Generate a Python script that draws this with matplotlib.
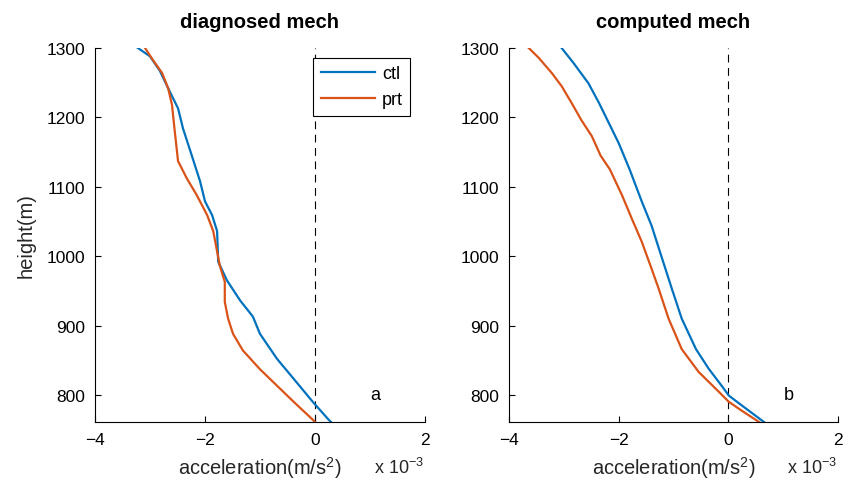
import matplotlib
matplotlib.use("Agg")
import matplotlib.pyplot as plt
import numpy as np

plt.rcParams['font.family'] = ['Liberation Sans', 'DejaVu Sans']
plt.rcParams['mathtext.fontset'] = 'custom'
plt.rcParams['mathtext.rm'] = 'Liberation Sans'
plt.rcParams['mathtext.it'] = 'Liberation Sans:italic'

# ---- data (acceleration in units of 1e-3 m/s^2, height in m) ----
diag_ctl_x = [-3.22, -3.0, -2.82, -2.67, -2.49, -2.40, -2.24, -2.09, -2.0, -1.87, -1.78,
              -1.76, -1.60, -1.36, -1.13, -1.0, -0.69, -0.27, -0.04, 0.24, 0.29]
diag_ctl_h = [1300, 1288, 1267, 1242, 1213, 1184, 1145, 1108, 1079, 1059, 1036,
              992, 965, 936, 913, 888, 852, 812, 790, 765, 761]
diag_prt_x = [-3.09, -2.95, -2.78, -2.67, -2.60, -2.55, -2.49, -2.33, -2.15, -1.96, -1.85,
              -1.73, -1.64, -1.64, -1.58, -1.49, -1.31, -1.0, -0.4, -0.05, 0.0]
diag_prt_h = [1300, 1283, 1264, 1242, 1218, 1180, 1137, 1112, 1088, 1059, 1036,
              986, 963, 934, 910, 888, 864, 837, 791, 765, 761]

comp_ctl_x = [-3.04, -2.82, -2.55, -2.36, -2.18, -2.0, -1.80, -1.58, -1.40, -1.25,
              -1.03, -0.85, -0.59, -0.36, -0.12, 0.01, 0.26, 0.65]
comp_ctl_h = [1300, 1278, 1249, 1221, 1192, 1163, 1125, 1079, 1044, 1007,
              953, 910, 866, 838, 813, 799, 784, 761]
comp_prt_x = [-3.64, -3.46, -3.22, -3.04, -2.86, -2.68, -2.49, -2.33, -2.16, -1.94,
              -1.76, -1.58, -1.40, -1.27, -1.09, -0.85, -0.54, -0.23, 0.01, 0.25, 0.56]
comp_prt_h = [1300, 1286, 1264, 1245, 1221, 1196, 1173, 1145, 1125, 1088,
              1054, 1021, 982, 953, 910, 866, 833, 809, 790, 777, 761]

titles = ["diagnosed mech", "computed mech"]
panel_labels = ["a", "b"]
legend_labels = ["ctl", "prt"]
xticks = [-4, -2, 0, 2]
yticks = [800, 900, 1000, 1100, 1200, 1300]

blue = "#0072BD"
orange = "#D95319"

fig = plt.figure(figsize=(8.48, 4.85), dpi=100)
ax1 = fig.add_axes([95/848, 62/485, 330/848, 374/485])
ax2 = fig.add_axes([509/848, 62/485, 329/848, 374/485])

series = [(diag_ctl_x, diag_ctl_h, diag_prt_x, diag_prt_h),
          (comp_ctl_x, comp_ctl_h, comp_prt_x, comp_prt_h)]

for i, (ax, (cx, ch, px, ph)) in enumerate(zip([ax1, ax2], series)):
    ax.plot([0, 0], [761, 1300], color='black', lw=0.8, dashes=(7, 5), zorder=1)
    l1, = ax.plot(cx, ch, color=blue, lw=1.6, label=legend_labels[0], zorder=2)
    l2, = ax.plot(px, ph, color=orange, lw=1.6, label=legend_labels[1], zorder=2)
    ax.set_xlim(-4, 2)
    ax.set_ylim(761, 1300)
    ax.set_xticks(xticks)
    ax.set_yticks(yticks)
    ax.spines['top'].set_visible(False)
    ax.spines['right'].set_visible(False)
    ax.spines['left'].set_linewidth(0.8)
    ax.spines['bottom'].set_linewidth(0.8)
    ax.tick_params(direction='in', length=4, width=0.8, labelsize=12.5, pad=7)
    ax.set_title(titles[i], fontsize=14.5, fontweight='bold', pad=15)
    ax.set_xlabel(r"acceleration(m/s$\mathregular{^2}$)", fontsize=14.5, color='#262626', labelpad=5)
    ax.text(1.1, 800, panel_labels[i], fontsize=13, ha='center', va='center')
    ax.text(0.997, -0.12, r"x 10$\mathregular{^{-3}}$", transform=ax.transAxes,
            fontsize=13, ha='right', va='center', color='#262626')
    if i == 0:
        ax.set_ylabel("height(m)", fontsize=14.5, color='#262626', labelpad=8)
        leg = ax.legend(loc='upper right', bbox_to_anchor=(0.955, 0.973), fancybox=False,
                        edgecolor='black', framealpha=1, fontsize=13, handlelength=3.0,
                        borderpad=0.4, labelspacing=0.5, handletextpad=0.4,
                        borderaxespad=0)
        leg.get_frame().set_linewidth(0.8)
        leg.set_zorder(5)

fig.savefig("out.png", dpi=100)
